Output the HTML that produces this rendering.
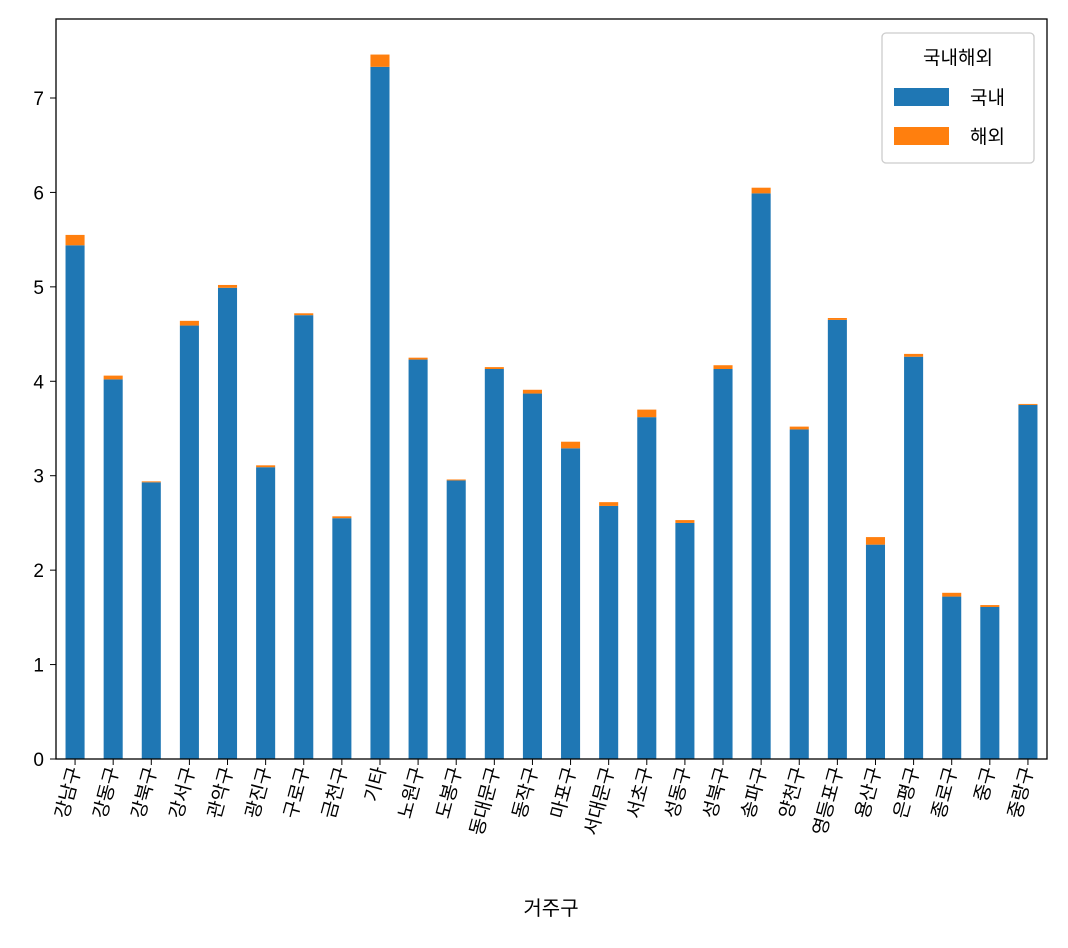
<!DOCTYPE html>
<html><head><meta charset="utf-8"><style>
body{margin:0;background:#fff}
svg text{font-family:"Liberation Sans","Noto Sans CJK KR",sans-serif;fill:#000}
</style></head><body>
<svg id="chart" width="1068" height="943" xmlns="http://www.w3.org/2000/svg">
<rect x="0" y="0" width="1068" height="943" fill="#fff"/>
<g id="bars"></g>
<g id="xticks"></g>
<g id="yticks"></g>
<rect x="56" y="19" width="991" height="740" fill="none" stroke="#000" stroke-width="1.3"/>
<text x="551" y="915" font-size="20" text-anchor="middle">거주구</text>
<g>
<rect x="882" y="33" width="152" height="130" rx="4" fill="#fff" stroke="#ccc" stroke-width="1.3"/>
<text x="958" y="64" font-size="19" text-anchor="middle">국내해외</text>
<rect x="894" y="88" width="55" height="18" fill="#1f77b4"/>
<text x="970" y="104" font-size="19">국내</text>
<rect x="894" y="127" width="55" height="18" fill="#ff7f0e"/>
<text x="970" y="143" font-size="19">해외</text>
</g>
</svg>
<script>
const categories=["강남구","강동구","강북구","강서구","관악구","광진구","구로구","금천구","기타","노원구","도봉구","동대문구","동작구","마포구","서대문구","서초구","성동구","성북구","송파구","양천구","영등포구","용산구","은평구","종로구","중구","중랑구"];
const domestic=[5.44,4.02,2.93,4.59,4.99,3.09,4.70,2.55,7.33,4.23,2.95,4.13,3.87,3.29,2.68,3.62,2.50,4.13,5.99,3.49,4.65,2.27,4.26,1.72,1.61,3.75];
const overseas=[0.11,0.04,0.01,0.05,0.03,0.02,0.02,0.02,0.13,0.02,0.01,0.02,0.04,0.07,0.04,0.08,0.03,0.04,0.06,0.03,0.02,0.08,0.03,0.04,0.02,0.01];
const yTicks=[0,1,2,3,4,5,6,7];
</script>
<script>
const NS="http://www.w3.org/2000/svg";
const X0=56,X1=1047,Y0=759,pxPerUnit=94.43;
const n=categories.length;
const slot=(X1-X0)/n;
function xc(i){return X0+slot*(i+0.5);}
function yv(v){return Y0-v*pxPerUnit;}
const bars=document.getElementById('bars'),xt=document.getElementById('xticks'),yt=document.getElementById('yticks');
const bw=slot*0.5;
categories.forEach((c,i)=>{
  const x=xc(i)-bw/2;
  const r1=document.createElementNS(NS,'rect');
  
  
  r1.setAttribute('x',x);r1.setAttribute('width',bw);
  r1.setAttribute('y',yv(domestic[i]));r1.setAttribute('height',Y0-yv(domestic[i]));
  r1.setAttribute('fill','#1f77b4');bars.appendChild(r1);
  const r2=document.createElementNS(NS,'rect');
  
  
  r2.setAttribute('x',x);r2.setAttribute('width',bw);
  r2.setAttribute('y',yv(domestic[i]+overseas[i]));r2.setAttribute('height',overseas[i]*pxPerUnit);
  r2.setAttribute('fill','#ff7f0e');bars.appendChild(r2);
  const tk=document.createElementNS(NS,'line');
  
  
  tk.setAttribute('x1',xc(i));tk.setAttribute('x2',xc(i));tk.setAttribute('y1',Y0);tk.setAttribute('y2',Y0+6);
  tk.setAttribute('stroke','#000');xt.appendChild(tk);
  const t=document.createElementNS(NS,'text');
  
  
  t.setAttribute('font-size','19');t.setAttribute('text-anchor','end');
  t.setAttribute('transform','translate('+(xc(i)+6)+','+(Y0+10)+') rotate(-75)');
  t.textContent=c;xt.appendChild(t);
});
yTicks.forEach(v=>{
  const tk=document.createElementNS(NS,'line');
  
  
  tk.setAttribute('x1',X0-6);tk.setAttribute('x2',X0);tk.setAttribute('y1',yv(v));tk.setAttribute('y2',yv(v));
  tk.setAttribute('stroke','#000');yt.appendChild(tk);
  const t=document.createElementNS(NS,'text');
  
  
  t.setAttribute('x',X0-12);t.setAttribute('y',yv(v)+7);t.setAttribute('font-size','19');t.setAttribute('text-anchor','end');
  t.textContent=v;yt.appendChild(t);
});
</script>
</body></html>
